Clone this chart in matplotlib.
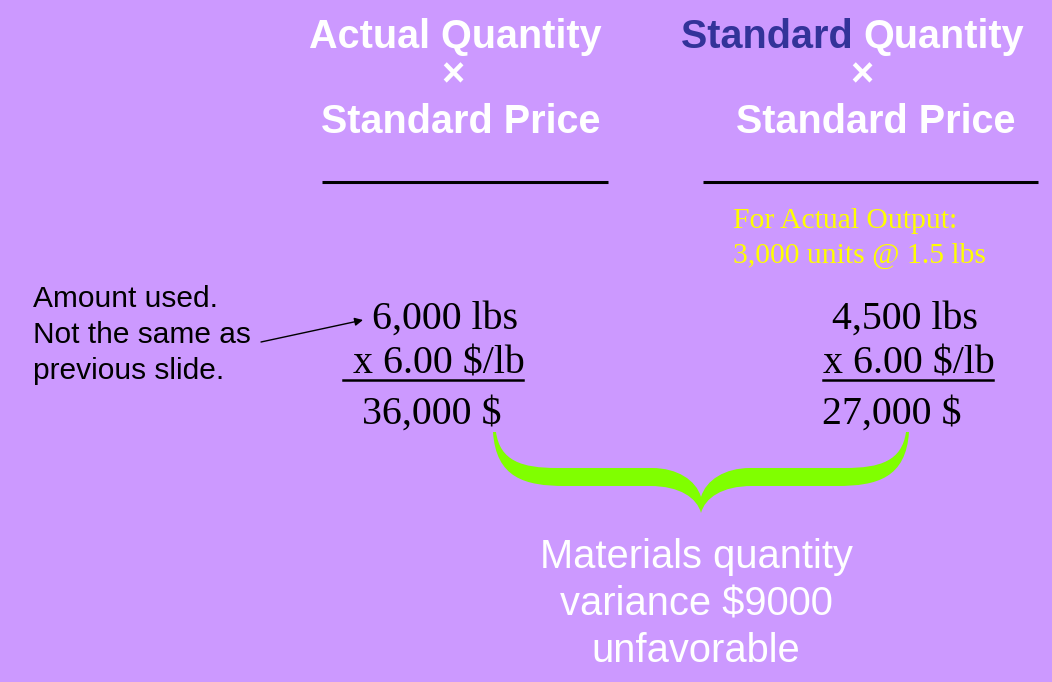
import matplotlib.pyplot as plt
from matplotlib.path import Path
from matplotlib.patches import PathPatch

# slide texts
col_heads = [("Actual Quantity", "Standard Price"), ("Standard Quantity", "Standard Price")]
output_note = ["For Actual Output:", "3,000 units @ 1.5 lbs"]
quantities = ["6,000 lbs", "4,500 lbs"]
prices = [" x 6.00 $/lb", "x 6.00 $/lb"]
totals = ["36,000 $", "27,000 $"]
side_note = ["Amount used.", "Not the same as", "previous slide."]
result_note = ["Materials quantity", "variance $9000", "unfavorable"]

bg = "#CC99FF"
sans = "Liberation Sans"
serif = "Liberation Serif"

fig = plt.figure(figsize=(10.52, 6.82), dpi=100)
fig.patch.set_facecolor(bg)
ax = fig.add_axes([0, 0, 1, 1])
ax.set_facecolor(bg)
ax.set_xlim(0, 1052)
ax.set_ylim(682, 0)
ax.axis("off")

# headers
ax.text(455, 48, col_heads[0][0], ha="center", va="baseline", fontsize=28.5,
        fontweight="bold", family=sans, color="white")
ax.text(453, 86, "×", ha="center", va="baseline", fontsize=28.5,
        fontweight="bold", family=sans, color="white")
ax.text(461, 133, col_heads[0][1], ha="center", va="baseline", fontsize=28.5,
        fontweight="bold", family=sans, color="white")

w1, w2 = col_heads[1][0].split(" ")
t = ax.text(681, 48, w1 + " ", ha="left", va="baseline", fontsize=28.5,
            fontweight="bold", family=sans, color="#333399")
fig.canvas.draw()
bb = t.get_window_extent().transformed(ax.transData.inverted())
ax.text(bb.x1, 48, w2, ha="left", va="baseline", fontsize=28.5,
        fontweight="bold", family=sans, color="white")
ax.text(862, 86, "×", ha="center", va="baseline", fontsize=28.5,
        fontweight="bold", family=sans, color="white")
ax.text(876, 133, col_heads[1][1], ha="center", va="baseline", fontsize=28.5,
        fontweight="bold", family=sans, color="white")

ax.plot([322, 608], [182, 182], color="black", lw=2.2, solid_capstyle="butt")
ax.plot([703, 1038], [182, 182], color="black", lw=2.2, solid_capstyle="butt")

# yellow note
ax.text(733, 228, output_note[0], ha="left", va="baseline", fontsize=21.3,
        family=serif, color="#FFFF00")
ax.text(733, 263, output_note[1], ha="left", va="baseline", fontsize=21.3,
        family=serif, color="#FFFF00")

# calculations
ax.text(372, 329, quantities[0], ha="left", va="baseline", fontsize=28.7, family=serif, color="black")
ax.text(343, 374, prices[0], ha="left", va="baseline", fontsize=28.7, family=serif, color="black")
ax.plot([343, 523], [380, 380], color="black", lw=1.8)
ax.text(362, 424, totals[0], ha="left", va="baseline", fontsize=28.7, family=serif, color="black")

ax.text(832, 329, quantities[1], ha="left", va="baseline", fontsize=28.7, family=serif, color="black")
ax.text(823, 374, prices[1], ha="left", va="baseline", fontsize=28.7, family=serif, color="black")
ax.plot([823, 993], [380, 380], color="black", lw=1.8)
ax.text(822, 424, totals[1], ha="left", va="baseline", fontsize=28.7, family=serif, color="black")

# side note with arrow
for i, line in enumerate(side_note):
    ax.text(33, 307 + i * 36, line, ha="left", va="baseline", fontsize=21.5,
            family=sans, color="black")
ax.annotate("", xy=(363, 320), xytext=(261, 342),
            arrowprops=dict(arrowstyle="-|>", color="black", lw=1.0,
                            mutation_scale=12, shrinkA=0, shrinkB=0))

# green brace
verts = [
    (493, 432),
    (496, 478), (525, 486), (565, 486),
    (650, 486),
    (680, 486), (697, 498), (701, 513),
    (705, 498), (722, 486), (752, 486),
    (837, 486),
    (877, 486), (906, 478), (909, 432),
    (906, 432),
    (902, 461), (880, 468), (845, 468),
    (750, 468),
    (725, 468), (706, 480), (701, 497),
    (696, 480), (677, 468), (652, 468),
    (557, 468),
    (522, 468), (500, 461), (496, 432),
    (493, 432),
]
codes = [Path.MOVETO] + [Path.CURVE4] * 3 + [Path.LINETO] + [Path.CURVE4] * 6 + \
        [Path.LINETO] + [Path.CURVE4] * 3 + [Path.LINETO] + [Path.CURVE4] * 3 + \
        [Path.LINETO] + [Path.CURVE4] * 6 + [Path.LINETO] + [Path.CURVE4] * 3 + [Path.CLOSEPOLY]
ax.add_patch(PathPatch(Path(verts, codes), facecolor="#80FF00", edgecolor="none"))

# result text
for i, line in enumerate(result_note):
    ax.text(696, 568 + i * 47, line, ha="center", va="baseline", fontsize=28.7,
            family=sans, color="white")

fig.savefig("out.png", dpi=100, facecolor=bg)
